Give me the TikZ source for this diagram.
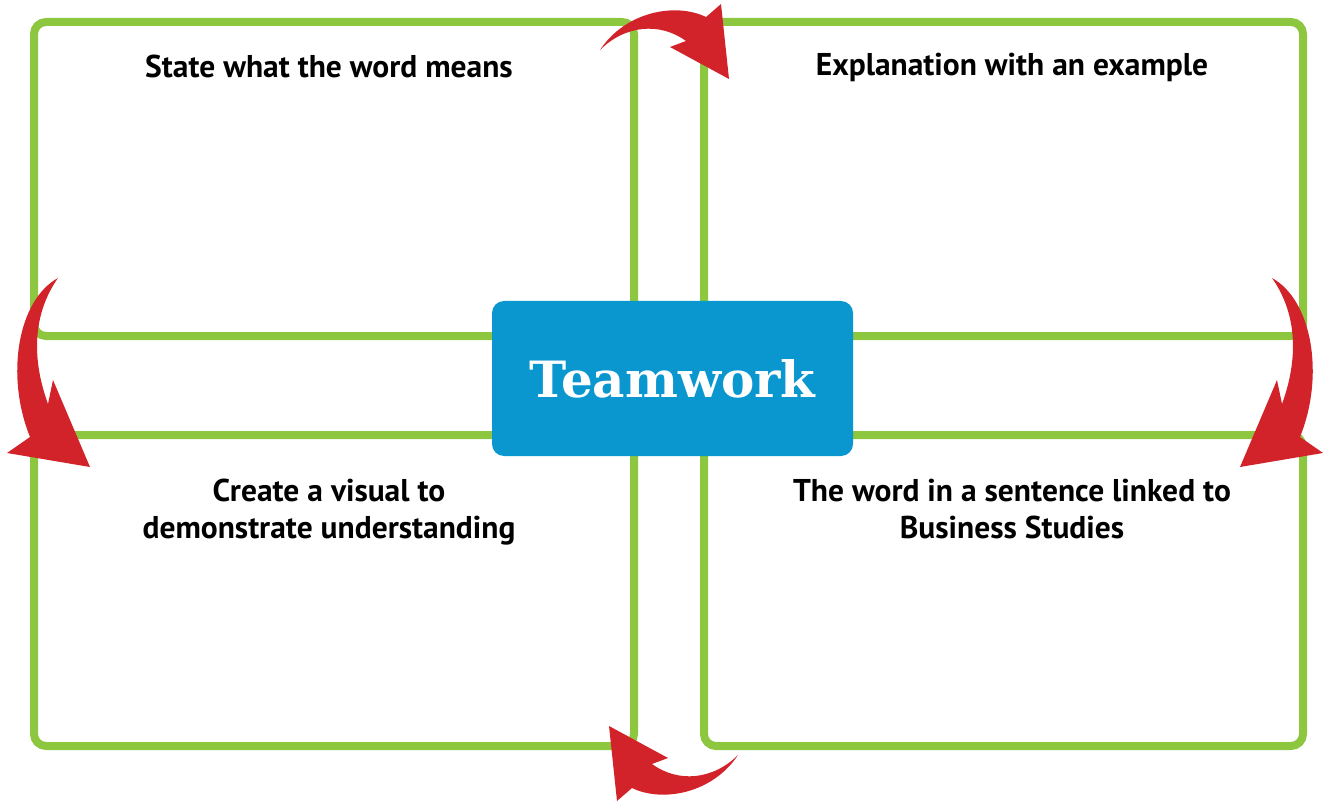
\documentclass[tikz,border=0pt]{standalone}
\usepackage{fontspec}
\setmainfont{PT Sans}
\newfontfamily\slabfont{DejaVu Serif}
\usetikzlibrary{calc}
\definecolor{boxgreen}{HTML}{8DC63F}
\definecolor{keyblue}{HTML}{0A96CF}
\definecolor{arrowred}{HTML}{D2232A}
\tikzset{
  quarter/.style={draw=boxgreen, line width=8pt, rounded corners=12pt},
  prompt/.style={font=\fontsize{31.5}{37}\selectfont\bfseries, align=center, inner sep=0pt},
  turn/.style={fill=arrowred, draw=none},
}

\begin{document}
\begin{tikzpicture}[x=1pt, y=-1pt]
		%%%%% START %%%%%
		\useasboundingbox (0,0) rectangle (1325,802);
		
		% four quarters
		\draw[quarter] (34,22) rectangle (634,336);
		\draw[quarter] (704,22) rectangle (1303,336);
		\draw[quarter] (34,435) rectangle (634,746);
		\draw[quarter] (704,435) rectangle (1303,746);
		
		\node[prompt, anchor=base] (means) at (329,78) {State what the word means};
		\node[prompt, anchor=base] (example) at (1012,76) {Explanation with an example};
		\node[prompt, anchor=base] (visual) at (329,538) {Create a visual to\\demonstrate understanding};
		\node[prompt, anchor=base] (sentence) at (1012,538) {The word in a sentence linked to\\Business Studies};
		
		% key word
		\node[fill=keyblue, rounded corners=12pt, minimum width=361pt, minimum height=155pt,
		      text=white, font=\slabfont\bfseries\fontsize{50}{50}\selectfont] (teamwork) at (672.5,378.5) {Teamwork};
		
		% turning arrows
		\fill[turn] (600,50) .. controls (625,12) and (675,2) .. (706,17) -- (721,4) -- (729,79)
		      -- (670,47) -- (686,41) .. controls (660,22) and (625,25) .. cycle;
		\fill[turn] (1272,278) .. controls (1312,300) and (1325,375) .. (1300,437) -- (1323,453) -- (1240,467)
		      -- (1277,380) -- (1282,404) .. controls (1298,360) and (1298,315) .. cycle;
		\fill[turn] (738,755) .. controls (713,793) and (663,803) .. (632,788) -- (617,801) -- (609,726)
		      -- (668,758) -- (652,764) .. controls (678,783) and (713,780) .. cycle;
		\fill[turn] (58,278) .. controls (18,300) and (5,375) .. (30,437) -- (7,453) -- (90,467)
		      -- (53,380) -- (48,404) .. controls (32,360) and (32,315) .. cycle;
		%%%%% END %%%%%
\end{tikzpicture}
\end{document}
